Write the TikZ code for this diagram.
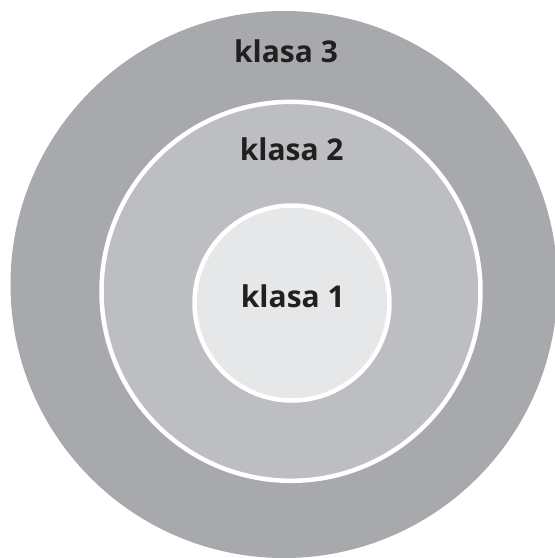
\documentclass[tikz,border=0pt]{standalone}
\usepackage{fontspec}
\setmainfont{Open Sans}
\definecolor{ringthree}{RGB}{168,169,173}
\definecolor{ringtwo}{RGB}{189,190,194}
\definecolor{ringone}{RGB}{230,231,232}
\definecolor{klasatext}{RGB}{35,31,32}
\begin{document}
\begin{tikzpicture}[x=1pt,y=-1pt,
    ringtext/.style={font=\fontsize{30}{30}\selectfont\bfseries,text=klasatext,inner sep=0pt},
    ring/.style={draw=white,line width=4.5pt}]
    \useasboundingbox (0,0) rectangle (555,558);
    \coordinate (c3) at (284,284.5);
    \coordinate (c2) at (291,291.3);
    \coordinate (c1) at (292,303);

    \fill [ringthree] (c3) circle (273.5pt);
    \draw [ring,fill=ringtwo] (c2) circle (189.5pt);
    \draw [ring,fill=ringone] (c1) circle (97.5pt);

    \node [ringtext] (k3) at (286,51) {klasa 3};
    \node [ringtext] (k2) at (291.7,149) {klasa 2};
    \node [ringtext] (k1) at (292.8,296) {klasa 1};
\end{tikzpicture}
\end{document}
